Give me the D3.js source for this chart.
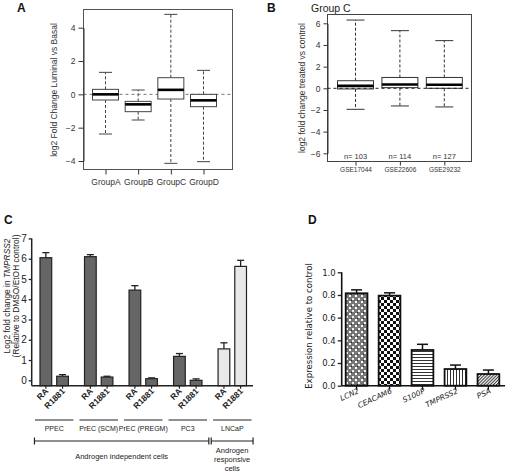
<!DOCTYPE html>
<html><head><meta charset="utf-8">
<script src="https://cdn.jsdelivr.net/npm/d3@7"></script>
<style>body{margin:0;background:#fff} svg{display:block}</style>
</head><body><svg id="c" width="505" height="472"></svg>
<script>
// ---------- Panel A data ----------
const groupsA = ["GroupA","GroupB","GroupC","GroupD"];
const whiskerLowA  = [-2.38,-1.54,-4.14,-4.04];
const q1A          = [-0.34,-1.04,-0.28,-0.74];
const medianA      = [0.0,-0.6,0.27,-0.36];
const q3A          = [0.3,-0.42,1.0,0.0];
const whiskerHighA = [1.32,0.26,4.8,1.44];
const ticksA = [-4,-2,0,2,4];

// ---------- Panel B data ----------
const datasetsB = ["GSE17044","GSE22606","GSE29232"];
const nB = [103,114,127];
const whiskerLowB  = [-1.94,-1.63,-1.72];
const q1B          = [-0.06,0.06,0.0];
const medianB      = [0.22,0.35,0.33];
const q3B          = [0.7,1.0,1.0];
const whiskerHighB = [6.3,5.32,4.4];
const ticksB = [-6,-4,-2,0,2,4,6];

// ---------- Panel C data ----------
const cellLinesC = ["PPEC","PrEC (SCM)","PrEC (PREGM)","PC3","LNCaP"];
const treatmentsC = ["RA","R1881"];
const raC       = [6.05,6.1,4.45,1.18,1.55];
const raErrC    = [0.25,0.1,0.22,0.14,0.3];
const r1881C    = [0.2,0.16,0.08,0.0,5.62];
const r1881ErrC = [0.08,0.04,0.04,0.07,0.3];
const ticksC = [0,1,2,3,4,5,6,7];

// ---------- Panel D data ----------
const genesD = ["LCN2","CEACAM6","S100P","TMPRSS2","PSA"];
const exprD  = [0.815,0.794,0.315,0.147,0.103];
const errD   = [0.03,0.025,0.05,0.035,0.035];
const ticksD = [0,0.2,0.4,0.6,0.8,1.0];

const svg = d3.select("#c");
svg.append("rect").attr("width",505).attr("height",472).attr("fill","#fff");
const SANS = "'Liberation Sans', Arial, sans-serif";
const TAH = "'DejaVu Sans', Verdana, sans-serif";

function panelLabel(t,x,y){
  svg.append("text").attr("x",x).attr("y",y).text(t)
    .attr("font-family",SANS).attr("font-weight","bold").attr("font-size",12).attr("fill","#111");
}

function styleAxis(g, fs, fam, col){
  g.selectAll("text").attr("font-size",fs).attr("font-family",fam).attr("fill",col);
  g.selectAll("line,path").attr("stroke",col);
}

function boxplots(g, x, y, lo, q1, med, q3, hi, bw, cw, col){
  const dom = x.domain();
  dom.forEach((k,i)=>{
    const cx = x(k);
    g.append("line").attr("x1",cx).attr("x2",cx).attr("y1",y(q3[i])).attr("y2",y(hi[i]))
      .attr("stroke",col).attr("stroke-dasharray","3,2");
    g.append("line").attr("x1",cx).attr("x2",cx).attr("y1",y(q1[i])).attr("y2",y(lo[i]))
      .attr("stroke",col).attr("stroke-dasharray","3,2");
    g.append("line").attr("x1",cx-cw/2).attr("x2",cx+cw/2).attr("y1",y(hi[i])).attr("y2",y(hi[i])).attr("stroke",col);
    g.append("line").attr("x1",cx-cw/2).attr("x2",cx+cw/2).attr("y1",y(lo[i])).attr("y2",y(lo[i])).attr("stroke",col);
    g.append("rect").attr("x",cx-bw/2).attr("y",y(q3[i])).attr("width",bw).attr("height",y(q1[i])-y(q3[i]))
      .attr("fill","#fff").attr("stroke",col);
    g.append("line").attr("x1",cx-bw/2).attr("x2",cx+bw/2).attr("y1",y(med[i])).attr("y2",y(med[i]))
      .attr("stroke","#000").attr("stroke-width",2.6);
  });
}

// =================== Panel A ===================
{
  const g = svg.append("g");
  const yA = d3.scaleLinear().domain([-4,4]).range([161,27.7]);
  const xA = d3.scalePoint().domain(groupsA).range([105.5,203.5]);
  const left=83.5, right=232.5, top=9.5, bottom=169.5;
  g.append("line").attr("x1",left).attr("x2",right).attr("y1",yA(0)).attr("y2",yA(0))
    .attr("stroke","#777").attr("stroke-dasharray","3,3");
  boxplots(g,xA,yA,whiskerLowA,q1A,medianA,q3A,whiskerHighA,26,13,"#444");
  g.append("rect").attr("x",left).attr("y",top).attr("width",right-left).attr("height",bottom-top)
    .attr("fill","none").attr("stroke","#555");
  const ay = g.append("g").attr("transform",`translate(${left},0)`)
    .call(d3.axisLeft(yA).tickValues(ticksA).tickFormat(d3.format("d")).tickSize(5).tickSizeOuter(0).tickPadding(3));
  styleAxis(ay,8.5,SANS,"#333");
  const ax = g.append("g").attr("transform",`translate(0,${bottom})`)
    .call(d3.axisBottom(xA).tickSize(5).tickSizeOuter(0).tickPadding(4));
  ax.select(".domain").remove();
  styleAxis(ax,8.5,SANS,"#333");
  g.append("text").attr("transform","translate(57,90) rotate(-90)").attr("text-anchor","middle")
    .attr("font-family",SANS).attr("font-size",8.5).attr("fill","#333").text("log2 Fold Change Luminal vs Basal");
  panelLabel("A",17,12);
}

// =================== Panel B ===================
{
  const g = svg.append("g");
  const yB = d3.scaleLinear().domain([-6,6]).range([153.3,23.3]);
  const xB = d3.scalePoint().domain(datasetsB).range([355.5,444.3]);
  const left=327.5, right=471.5, top=14.5, bottom=161.5;
  boxplots(g,xB,yB,whiskerLowB,q1B,medianB,q3B,whiskerHighB,36,18,"#333");
  g.append("line").attr("x1",left).attr("x2",right).attr("y1",yB(0)).attr("y2",yB(0))
    .attr("stroke","#222").attr("stroke-dasharray","3,3");
  g.append("rect").attr("x",left).attr("y",top).attr("width",right-left).attr("height",bottom-top)
    .attr("fill","none").attr("stroke","#444");
  const ay = g.append("g").attr("transform",`translate(${left},0)`)
    .call(d3.axisLeft(yB).tickValues(ticksB).tickFormat(d3.format("d")).tickSize(4).tickSizeOuter(0).tickPadding(3));
  styleAxis(ay,8.5,SANS,"#333");
  const ax = g.append("g").attr("transform",`translate(0,${bottom})`)
    .call(d3.axisBottom(xB).tickSize(4).tickSizeOuter(0).tickPadding(2));
  ax.select(".domain").remove();
  styleAxis(ax,6.5,SANS,"#333");
  g.selectAll(".nlab").data(datasetsB).enter().append("text")
    .attr("x",d=>xB(d)).attr("y",159).attr("text-anchor","middle")
    .attr("font-family",SANS).attr("font-size",7.5).attr("fill","#333")
    .text((d,i)=>"n= "+nB[i]);
  g.append("text").attr("transform","translate(305,88) rotate(-90)").attr("text-anchor","middle")
    .attr("font-family",SANS).attr("font-size",8.5).attr("fill","#333").text("log2 fold change treated vs control");
  g.append("text").attr("x",311).attr("y",12).attr("font-family",SANS).attr("font-size",10.5)
    .attr("fill","#222").text("Group C");
  panelLabel("B",267,12);
}

// =================== Panel C ===================
{
  const g = svg.append("g");
  const axisY = 385.7, axisX = 31.7;
  const yC = d3.scaleLinear().domain([0,6]).range([380.3,258.7]);
  const xG = d3.scaleBand().domain(cellLinesC).range([31.95,254.55]).padding(0);
  const xT = d3.scalePoint().domain(treatmentsC).range([13.9,30.6]);
  const bw = 11.7;
  const vals = {RA:raC, R1881:r1881C};
  const errs = {RA:raErrC, R1881:r1881ErrC};
  cellLinesC.forEach((c,i)=>{
    treatmentsC.forEach(t=>{
      const cx = xG(c)+xT(t);
      const v = vals[t][i], e = errs[t][i];
      const fill = c==="LNCaP" ? "#e8e8e8" : "#666";
      g.append("line").attr("x1",cx).attr("x2",cx).attr("y1",yC(v)).attr("y2",yC(v+e)).attr("stroke","#222").attr("stroke-width",1.3);
      g.append("line").attr("x1",cx-3.5).attr("x2",cx+3.5).attr("y1",yC(v+e)).attr("y2",yC(v+e)).attr("stroke","#222").attr("stroke-width",1.3);
      g.append("rect").attr("x",cx-bw/2).attr("y",yC(v)).attr("width",bw).attr("height",axisY-yC(v))
        .attr("fill",fill).attr("stroke","#222").attr("stroke-width",1.2);
      g.append("line").attr("x1",cx).attr("x2",cx).attr("y1",axisY).attr("y2",axisY+3).attr("stroke","#222").attr("stroke-width",1.2);
      g.append("text").attr("transform",`translate(${cx+3},${axisY+6}) rotate(-45)`)
        .attr("text-anchor","end").attr("font-family",SANS).attr("font-weight","bold")
        .attr("font-size",8.5).attr("fill","#222").text(t);
    });
    g.append("line").attr("x1",xG(c)+3).attr("x2",xG(c)+xG.bandwidth()-3).attr("y1",420).attr("y2",420)
      .attr("stroke","#222").attr("stroke-width",1.2);
    g.append("text").attr("x",xG(c)+xG.bandwidth()/2).attr("y",431).attr("text-anchor","middle")
      .attr("font-family",SANS).attr("font-size",7).attr("fill","#222").text(c);
  });
  const ay = g.append("g").attr("transform",`translate(${axisX},0)`)
    .call(d3.axisLeft(yC).tickValues(ticksC).tickFormat(d3.format("d")).tickSize(3).tickSizeOuter(0).tickPadding(2));
  ay.select(".domain").remove();
  styleAxis(ay,10,SANS,"#222");
  ay.selectAll("line").attr("stroke-width",1.3);
  g.append("line").attr("x1",axisX).attr("x2",axisX).attr("y1",yC(7)).attr("y2",axisY).attr("stroke","#222").attr("stroke-width",1.5);
  g.append("line").attr("x1",axisX).attr("x2",253).attr("y1",axisY).attr("y2",axisY).attr("stroke","#222").attr("stroke-width",1.5);
  const bY = 441;
  function bracket(x1,x2){
    g.append("line").attr("x1",x1).attr("x2",x2).attr("y1",bY).attr("y2",bY).attr("stroke","#222").attr("stroke-width",1.2);
    [x1,x2].forEach(x=>g.append("line").attr("x1",x).attr("x2",x).attr("y1",bY-3.5).attr("y2",bY+3.5).attr("stroke","#222").attr("stroke-width",1.2));
  }
  const b1a = xG("PPEC")+2.5, b1b = xG("PC3")+xG.bandwidth()-1.2;
  const b2a = xG("LNCaP")+1.2, b2b = xG("LNCaP")+xG.bandwidth()-1.5;
  bracket(b1a,b1b); bracket(b2a,b2b);
  g.append("text").attr("x",(b1a+b1b)/2).attr("y",459).attr("text-anchor","middle")
    .attr("font-family",SANS).attr("font-size",7.5).attr("fill","#222").text("Androgen independent cells");
  ["Androgen","responsive","cells"].forEach((t,i)=>{
    g.append("text").attr("x",(b2a+b2b)/2).attr("y",453+i*9).attr("text-anchor","middle")
      .attr("font-family",SANS).attr("font-size",7.5).attr("fill","#222").text(t);
  });
  const yl1 = g.append("text").attr("transform","translate(10,296) rotate(-90)").attr("text-anchor","middle")
    .attr("font-family",SANS).attr("font-size",8.4).attr("fill","#222");
  yl1.append("tspan").text("Log2 fold change in ");
  yl1.append("tspan").attr("font-style","italic").text("TMPRSS2");
  g.append("text").attr("transform","translate(19,296) rotate(-90)").attr("text-anchor","middle")
    .attr("font-family",SANS).attr("font-size",8.4).attr("fill","#222").text("(Relative to DMSO/EtOH control)");
  panelLabel("C",4,224);
}

// =================== Panel D ===================
{
  const defs = svg.append("defs");
  function pat(id,w,h,draw,tr){
    const p = defs.append("pattern").attr("id",id).attr("patternUnits","userSpaceOnUse").attr("width",w).attr("height",h);
    if(tr) p.attr("patternTransform",tr);
    p.append("rect").attr("width",w).attr("height",h).attr("fill","#fff");
    draw(p);
  }
  pat("pLCN2",6,6,p=>{
    p.append("rect").attr("x",0).attr("y",0).attr("width",6).attr("height",6).attr("fill","#777");
    p.append("rect").attr("x",1).attr("y",1).attr("width",2).attr("height",2).attr("fill","#fff");
    p.append("rect").attr("x",4).attr("y",4).attr("width",2).attr("height",2).attr("fill","#eee");
    p.append("rect").attr("x",3).attr("y",0).attr("width",1).attr("height",1).attr("fill","#222");
  });
  pat("pCEA",6,6,p=>{
    p.append("rect").attr("x",0).attr("y",0).attr("width",3).attr("height",3).attr("fill","#111");
    p.append("rect").attr("x",3).attr("y",3).attr("width",3).attr("height",3).attr("fill","#111");
  });
  pat("pS100P",4,3,p=>{
    p.append("rect").attr("x",0).attr("y",0).attr("width",4).attr("height",1).attr("fill","#333");
  });
  pat("pTMP",3,4,p=>{
    p.append("rect").attr("x",0).attr("y",0).attr("width",1).attr("height",4).attr("fill","#333");
  });
  pat("pPSA",2.2,4,p=>{
    p.append("rect").attr("x",0).attr("y",0).attr("width",1).attr("height",4).attr("fill","#333");
  },"rotate(45)");
  const fills = ["url(#pLCN2)","url(#pCEA)","url(#pS100P)","url(#pTMP)","url(#pPSA)"];

  const g = svg.append("g");
  const axisX = 341.7, axisY = 385.7;
  const yD = d3.scaleLinear().domain([0,1]).range([axisY,272.3]);
  const xD = d3.scaleBand().domain(genesD).range([345.7,499.3]).paddingInner(0.34).paddingOuter(0);
  genesD.forEach((gn,i)=>{
    const x0 = xD(gn), cx = x0+xD.bandwidth()/2;
    const v = exprD[i], e = errD[i];
    g.append("line").attr("x1",cx).attr("x2",cx).attr("y1",yD(v)).attr("y2",yD(v+e)).attr("stroke","#111").attr("stroke-width",1.5);
    g.append("line").attr("x1",cx-5.5).attr("x2",cx+5.5).attr("y1",yD(v+e)).attr("y2",yD(v+e)).attr("stroke","#111").attr("stroke-width",1.5);
    g.append("rect").attr("x",x0).attr("y",yD(v)).attr("width",xD.bandwidth()).attr("height",axisY-yD(v))
      .attr("fill",fills[i]).attr("stroke","#111").attr("stroke-width",1.8);
    g.append("line").attr("x1",cx).attr("x2",cx).attr("y1",axisY).attr("y2",axisY+4).attr("stroke","#111").attr("stroke-width",1.3);
    g.append("text").attr("transform",`translate(${cx+3},${axisY+7}) rotate(-25)`)
      .attr("text-anchor","end").attr("font-family",TAH).attr("font-style","italic")
      .attr("font-size",7.5).attr("fill","#222").text(gn);
  });
  const ay = g.append("g").attr("transform",`translate(${axisX},0)`)
    .call(d3.axisLeft(yD).tickValues(ticksD).tickFormat(d3.format(".1f")).tickSize(4).tickSizeOuter(0).tickPadding(2));
  ay.select(".domain").remove();
  styleAxis(ay,8.5,TAH,"#222");
  ay.selectAll("line").attr("stroke-width",1.3);
  g.append("line").attr("x1",axisX).attr("x2",axisX).attr("y1",272.3).attr("y2",axisY).attr("stroke","#111").attr("stroke-width",1.6);
  g.append("line").attr("x1",axisX).attr("x2",505).attr("y1",axisY).attr("y2",axisY).attr("stroke","#111").attr("stroke-width",1.6);
  g.append("text").attr("transform","translate(312,326) rotate(-90)").attr("text-anchor","middle")
    .attr("font-family",TAH).attr("font-size",8.6).attr("fill","#222").text("Expression relative to control");
  panelLabel("D",308,224);
}
</script></body></html>
